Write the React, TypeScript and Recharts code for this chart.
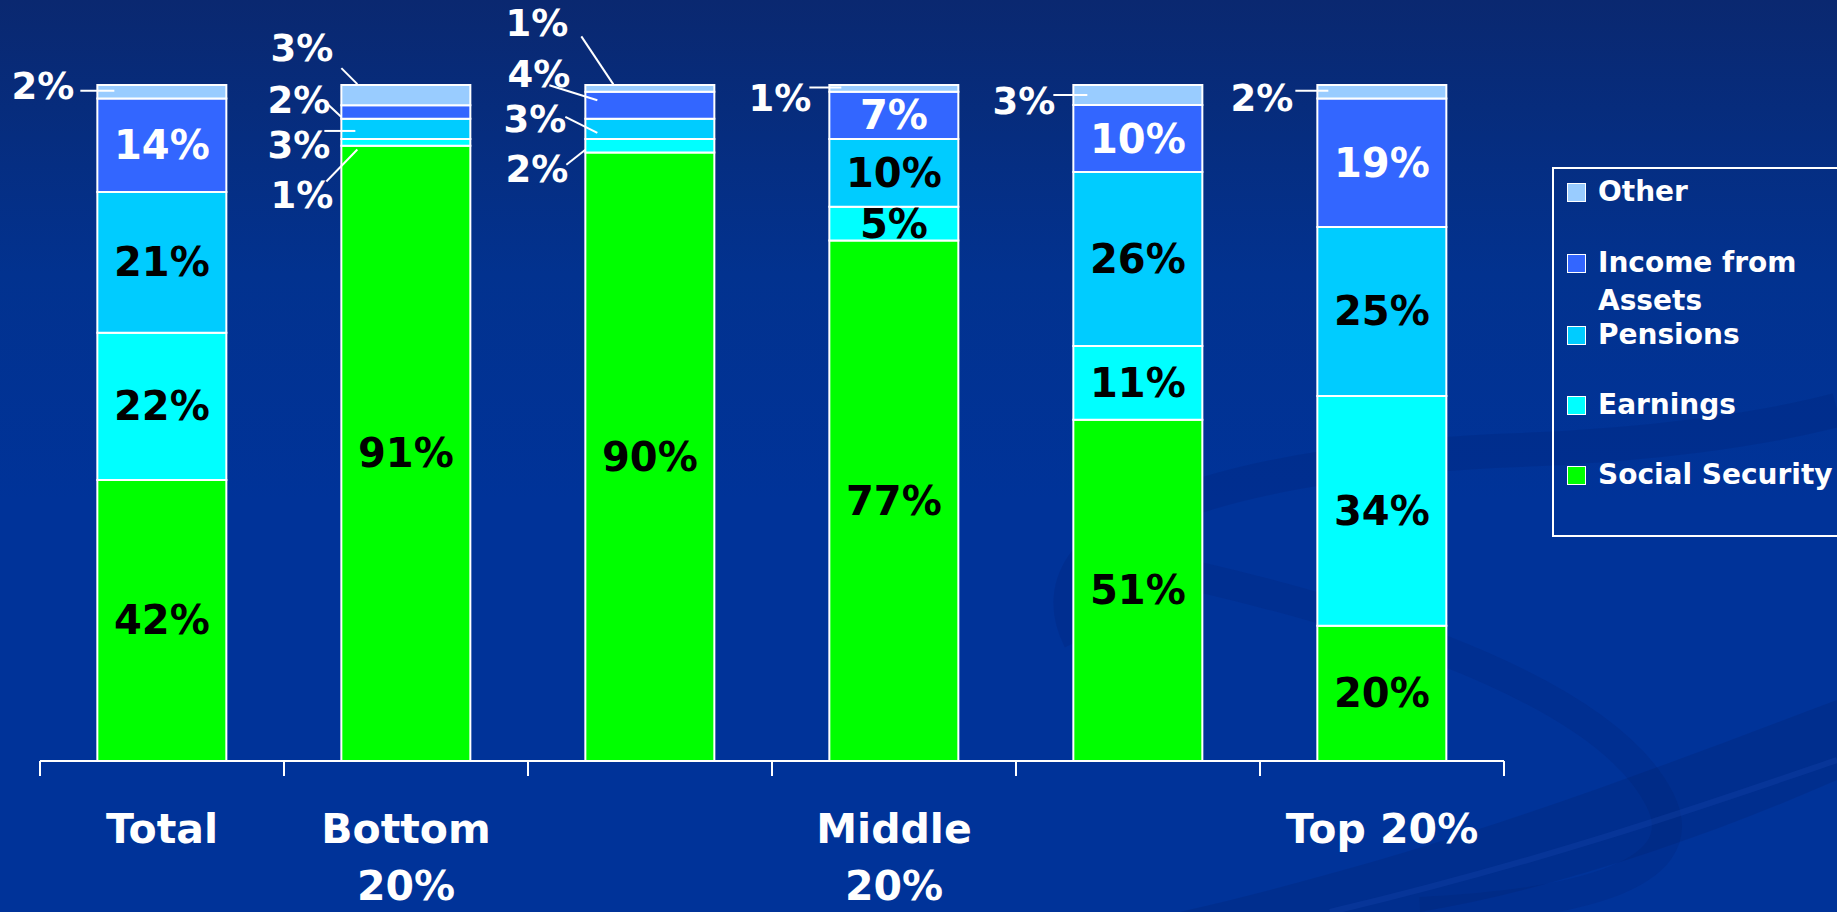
import React from "react";
import { BarChart, Bar, XAxis, YAxis, Legend } from "recharts";

const categories = ["Total", "Bottom\n20%", "", "Middle\n20%", "", "Top 20%"];
const socialSecurity = [42, 91, 90, 77, 51, 20];
const earnings = [22, 1, 2, 5, 11, 34];
const pensions = [21, 3, 3, 10, 26, 25];
const assets = [14, 2, 4, 7, 10, 19];
const other = [2, 3, 1, 1, 3, 2];

const FONT = "'DejaVu Sans', Verdana, sans-serif";

const series = [
  { key: "ss", name: "Social Security", color: "#00FF00", text: "#000", values: socialSecurity },
  { key: "earn", name: "Earnings", color: "#00FFFF", text: "#000", values: earnings },
  { key: "pen", name: "Pensions", color: "#00CCFF", text: "#000", values: pensions },
  { key: "assets", name: "Income from Assets", color: "#3366FF", text: "#fff", values: assets },
  { key: "other", name: "Other", color: "#99CCFF", text: "#000", values: other },
];

const data = categories.map((c, i) => {
  const row: Record<string, any> = { name: c };
  series.forEach((s) => (row[s.key] = s.values[i]));
  return row;
});

// small segments get their label outside the bar with a leader line
// dx = right edge of text from bar left, dy = text centre from segment centre
// line = [x1, y1, x2, y2] relative to (bar left, segment centre)
const outside: Record<string, { dx: number; dy: number; line: number[] }> = {
  "other-0": { dx: -23, dy: -5, line: [-17, -1, 17, -1] },
  "other-1": { dx: -8, dy: -47, line: [0, -27, 16, -11] },
  "assets-1": { dx: -11, dy: -12, line: [-16, -10, 0, 5] },
  "pen-1": { dx: -11, dy: 17, line: [-17, 2, 14, 2] },
  "earn-1": { dx: -8, dy: 53, line: [-15, 39, 16, 7] },
  "other-2": { dx: -17, dy: -65, line: [-4, -52, 28, -4] },
  "assets-2": { dx: -15, dy: -31, line: [-36, -20, 12, -5] },
  "pen-2": { dx: -19, dy: -9, line: [-20, -12, 12, 4] },
  "earn-2": { dx: -17, dy: 24, line: [-19, 19, 0, 4] },
  "other-3": { dx: -18, dy: 10, line: [-20, -1, 12, -1] },
  "other-4": { dx: -18, dy: 6, line: [-20, 0, 14, 0] },
  "other-5": { dx: -24, dy: 7, line: [-22, -1, 11, -1] },
};

const makeLabel = (s: (typeof series)[number]) => (props: any) => {
  const { x, y, width, height, index } = props;
  const v = s.values[index];
  const cy = y + height / 2;
  const o = outside[`${s.key}-${index}`];
  if (o) {
    return (
      <g key={`l-${s.key}-${index}`}>
        <line
          x1={x + o.line[0]}
          y1={cy + o.line[1]}
          x2={x + o.line[2]}
          y2={cy + o.line[3]}
          stroke="#fff"
          strokeWidth={2}
        />
        <text
          x={x + o.dx}
          y={cy + o.dy}
          textAnchor="end"
          dominantBaseline="central"
          fill="#fff"
          fontFamily={FONT}
          fontWeight="bold"
          fontSize={37}
        >
          {v}%
        </text>
      </g>
    );
  }
  return (
    <text
      key={`l-${s.key}-${index}`}
      x={x + width / 2}
      y={cy}
      textAnchor="middle"
      dominantBaseline="central"
      fill={s.text}
      fontFamily={FONT}
      fontWeight="bold"
      fontSize={40}
    >
      {v}%
    </text>
  );
};

// category label plus tick marks on the band edges
const CategoryTick = (props: any) => {
  const { x, y, payload, width, visibleTicksCount, index } = props;
  const half = payload.offset ? payload.offset : width / visibleTicksCount / 2;
  const lines = String(payload.value).split("\n");
  return (
    <g>
      <line x1={x - half} y1={y} x2={x - half} y2={y + 15} stroke="#fff" strokeWidth={2} />
      {index === visibleTicksCount - 1 && (
        <line x1={x + half} y1={y} x2={x + half} y2={y + 15} stroke="#fff" strokeWidth={2} />
      )}
      {lines.map((t, i) => (
        <text
          key={i}
          x={x}
          y={y + 68 + i * 57}
          textAnchor="middle"
          dominantBaseline="central"
          fill="#fff"
          fontFamily={FONT}
          fontWeight="bold"
          fontSize={41}
        >
          {t}
        </text>
      ))}
    </g>
  );
};

const LegendBox = () => {
  const items = [...series].reverse();
  const rows = [
    { top: 4, label: ["Other"] },
    { top: 75, label: ["Income from", "Assets"] },
    { top: 147, label: ["Pensions"] },
    { top: 217, label: ["Earnings"] },
    { top: 287, label: ["Social Security"] },
  ];
  return (
    <div
      style={{
        position: "relative",
        width: 320,
        height: 370,
        border: "2px solid #fff",
        boxSizing: "border-box",
        fontFamily: FONT,
        fontWeight: "bold",
        fontSize: 28,
        color: "#fff",
      }}
    >
      {items.map((s, i) => (
        <div key={s.key} style={{ position: "absolute", left: 13, top: rows[i].top, lineHeight: "38px" }}>
          <span
            style={{
              position: "absolute",
              left: 0,
              top: 10,
              width: 17,
              height: 17,
              background: s.color,
              border: "1px solid #fff",
            }}
          />
          <div style={{ marginLeft: 31, whiteSpace: "nowrap" }}>
            {rows[i].label.map((l, j) => (
              <div key={j}>{l}</div>
            ))}
          </div>
        </div>
      ))}
    </div>
  );
};

// faint swirl in the slide background
const Backdrop = () => (
  <svg width={1837} height={912} style={{ position: "absolute", left: 0, top: 0 }}>
    <path
      d="M 1080 640 C 1020 520, 1250 460, 1520 450 C 1650 445, 1760 430, 1837 410"
      fill="none"
      stroke="rgba(0,20,90,0.14)"
      strokeWidth={34}
    />
    <path
      d="M 1120 560 C 1320 600, 1600 680, 1660 800 C 1700 880, 1560 905, 1420 912"
      fill="none"
      stroke="rgba(0,20,90,0.13)"
      strokeWidth={30}
    />
    <path d="M 1180 912 C 1450 850, 1650 770, 1837 700 L 1837 780 C 1700 840, 1550 890, 1420 912 Z" fill="rgba(0,25,95,0.18)" />
    <path d="M 1330 912 C 1550 860, 1720 800, 1837 760" fill="none" stroke="rgba(40,90,200,0.18)" strokeWidth={6} />
  </svg>
);

export default function App() {
  return (
    <div
      style={{
        position: "absolute",
        left: 0,
        top: 0,
        width: 1837,
        height: 912,
        overflow: "hidden",
        background: "linear-gradient(180deg, #0a2870 0%, #02328f 30%, #003399 55%, #003399 100%)",
      }}
    >
      <Backdrop />
      <div style={{ position: "absolute", left: 0, top: 0 }}>
        <BarChart
          width={1837}
          height={912}
          data={data}
          stackOffset="expand"
          barCategoryGap="23.5%"
          margin={{ top: 85, right: 13, bottom: 0, left: 40 }}
        >
          <YAxis hide domain={[0, 1]} />
          <XAxis
            dataKey="name"
            stroke="#fff"
            strokeWidth={2}
            tickLine={false}
            tickSize={0}
            tickMargin={0}
            interval={0}
            tick={<CategoryTick />}
            height={151}
          />
          <Legend
            layout="vertical"
            verticalAlign="top"
            align="right"
            wrapperStyle={{ left: 1552, top: 167, width: 320 }}
            content={() => <LegendBox />}
          />
          {series.map((s) => (
            <Bar
              key={s.key}
              dataKey={s.key}
              name={s.name}
              stackId="a"
              fill={s.color}
              stroke="#fff"
              strokeWidth={2}
              isAnimationActive={false}
              label={makeLabel(s)}
            />
          ))}
        </BarChart>
      </div>
    </div>
  );
}
